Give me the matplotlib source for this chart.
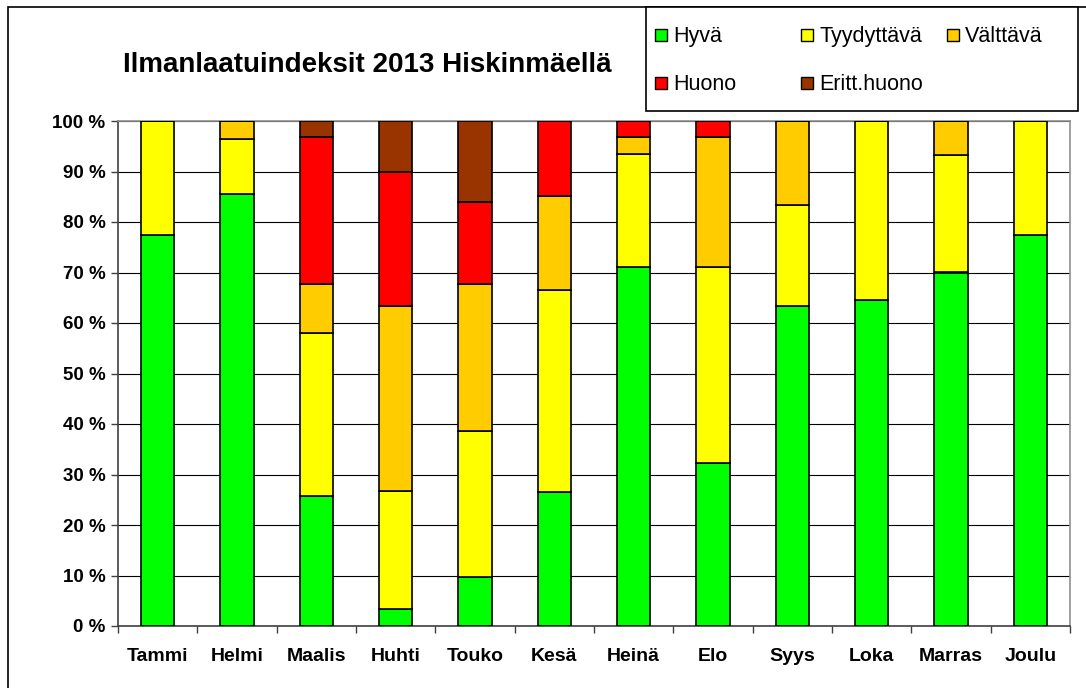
import matplotlib.pyplot as plt
from matplotlib.patches import Rectangle
import numpy as np

plt.rcParams['font.family'] = ['Liberation Sans', 'DejaVu Sans']

# kuukaudet ja luokkien osuudet (%), luettu kuvasta
months = ['Tammi', 'Helmi', 'Maalis', 'Huhti', 'Touko', 'Kesä',
          'Heinä', 'Elo', 'Syys', 'Loka', 'Marras', 'Joulu']
hyva = [77.4, 85.5, 25.8, 3.3, 9.7, 26.5, 71.0, 32.3, 63.3, 64.5, 70.0, 77.4]
tyydyttava = [22.6, 10.9, 32.3, 23.4, 29.0, 40.0, 22.5, 38.7, 20.0, 35.5, 23.3, 22.6]
valttava = [0.0, 3.6, 9.6, 36.6, 29.0, 18.7, 3.3, 25.8, 16.7, 0.0, 6.7, 0.0]
huono = [0.0, 0.0, 29.1, 26.7, 16.2, 14.8, 3.2, 3.2, 0.0, 0.0, 0.0, 0.0]
erittain_huono = [0.0, 0.0, 3.2, 10.0, 16.1, 0.0, 0.0, 0.0, 0.0, 0.0, 0.0, 0.0]

series = [
    ('Hyvä', hyva, '#00FF00'),
    ('Tyydyttävä', tyydyttava, '#FFFF00'),
    ('Välttävä', valttava, '#FFCC00'),
    ('Huono', huono, '#FF0000'),
    ('Eritt.huono', erittain_huono, '#993300'),
]

W, H = 1086, 688
fig = plt.figure(figsize=(W / 100, H / 100), dpi=100)
ax = fig.add_axes([118 / W, 1 - 626 / H, (1070 - 118) / W, (626 - 121) / H])

x = np.arange(len(months))
bottom = np.zeros(len(months))
for name, vals, col in series:
    vals = np.array(vals)
    ax.bar(x, vals, 0.42, bottom=bottom, color=col, edgecolor='black',
           linewidth=1.2, zorder=3)
    bottom += vals

ax.set_xlim(-0.5, len(months) - 0.5)
ax.set_ylim(0, 100)
ax.set_yticks(range(0, 101, 10))
ax.set_yticklabels([f'{v} %' for v in range(0, 101, 10)], fontsize=13.5, fontweight='bold')
ax.set_xticks(x)
ax.set_xticklabels(months, fontsize=14, fontweight='bold')
ax.set_xticks(np.arange(-0.5, len(months)), minor=True)
ax.tick_params(axis='x', which='major', length=0, pad=16)
ax.tick_params(axis='x', which='minor', length=5, width=1, color='#404040')
ax.tick_params(axis='y', length=5, width=1, color='#404040', pad=4)
ax.grid(axis='y', color='black', linewidth=0.8, zorder=0)

ax.spines['top'].set_color('#909090')
ax.spines['right'].set_color('#909090')
ax.spines['left'].set_color('#404040')
ax.spines['bottom'].set_color('#404040')
for s in ax.spines.values():
    s.set_linewidth(1.2)

# otsikko
fig.text(367 / W, 1 - 65 / H, 'Ilmanlaatuindeksit 2013 Hiskinmäellä',
         ha='center', va='center', fontsize=20, fontweight='bold')

# ulkoreunus
fig.patches.append(Rectangle((8 / W, -0.1), 1.2, 1 - 7 / H + 0.1,
                             transform=fig.transFigure, fill=False,
                             edgecolor='black', linewidth=1.2))

# selitelaatikko
fig.patches.append(Rectangle((646 / W, 1 - 111 / H), (1078 - 646) / W, (111 - 7) / H,
                             transform=fig.transFigure, facecolor='white',
                             edgecolor='black', linewidth=1.2, zorder=5))
for i, (name, vals, col) in enumerate(series):
    cx = 655 + (i % 3) * 146
    cy = 35 + (i // 3) * 48
    fig.patches.append(Rectangle((cx / W, 1 - (cy + 6) / H), 12 / W, 12 / H,
                                 transform=fig.transFigure, facecolor=col,
                                 edgecolor='black', linewidth=1, zorder=6))
    fig.text((cx + 18) / W, 1 - (cy + 7) / H, name, ha='left', va='baseline',
             fontsize=15.5, zorder=6)

fig.savefig('out.png', dpi=100)
